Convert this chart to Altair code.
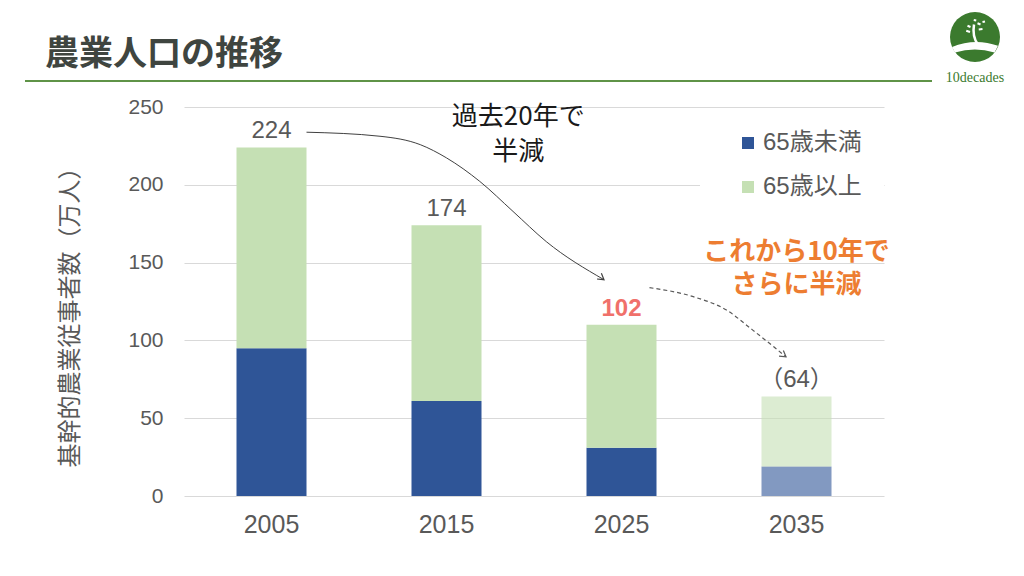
import altair as alt
import pandas as pd

# ---- data ----
years = ["2005", "2015", "2025", "2035"]
under65 = [95, 61, 31, 19]          # 65歳未満
over65 = [129, 113, 79, 45]         # 65歳以上
total_labels = ["224", "174", "102", "（64）"]
highlight = [False, False, True, False]
projected = [False, False, False, True]
series = ["65歳未満", "65歳以上"]

title_text = "農業人口の推移"
y_title = "基幹的農業従事者数（万人）"
y_ticks = [0, 50, 100, 150, 200, 250]

# annotation curves, in data units (x = category index, y = 万人)
past_arrow_x = [0.20, 0.62, 0.85, 1.00, 1.19, 1.38, 1.57, 1.90]
past_arrow_y = [233.8, 231.2, 225.8, 217.3, 202.2, 182.9, 163.5, 139.0]
future_arrow_x = [2.16, 2.41, 2.60, 2.75, 2.87, 2.94]
future_arrow_y = [133.9, 128.1, 119.5, 106.6, 95.9, 89.4]

past_note = ["過去20年で", "半減"]
past_note_x = [1.41, 1.41]
past_note_y = [243.8, 221.3]
future_note = ["これから10年で", "さらに半減"]
future_note_x = [3.0, 3.0]
future_note_y = [157.0, 135.6]

# ---- styles ----
BLUE = "#2f5597"
GREEN = "#c5e0b4"
GRAY = "#595959"
ORANGE = "#ed7d31"
RED = "#f0706a"
LOGO = "#3b7a2e"
CJK = "Noto Sans CJK JP"
LAT = "Liberation Sans, Noto Sans CJK JP"

W, H = 700, 389

rows = []
for i, yr in enumerate(years):
    op = 0.6 if projected[i] else 1.0
    rows.append({"year": yr, "series": series[0], "value": under65[i], "order": 0, "op": op})
    rows.append({"year": yr, "series": series[1], "value": over65[i], "order": 1, "op": op})
bars_df = pd.DataFrame(rows)

lab_df = pd.DataFrame({
    "year": years,
    "value": [a + b for a, b in zip(under65, over65)],
    "label": total_labels,
    "hl": highlight,
})

past_df = pd.DataFrame({"x": past_arrow_x, "value": past_arrow_y})
future_df = pd.DataFrame({"x": future_arrow_x, "value": future_arrow_y})
past_head = past_df.tail(1)
future_head = future_df.tail(1)
past_note_df = pd.DataFrame({"x": past_note_x, "value": past_note_y, "t": past_note})
future_note_df = pd.DataFrame({"x": future_note_x, "value": future_note_y, "t": future_note})

yscale = alt.Scale(domain=[0, 250], nice=False, zero=True)
yaxis = alt.Axis(
    values=y_ticks, title=y_title, grid=True, gridColor="#d9d9d9", domain=False, ticks=False,
    labelFontSize=21, labelColor=GRAY, labelFont=LAT, labelPadding=21,
    titleFont=CJK, titleFontSize=24, titleColor=GRAY, titleFontWeight="normal",
    titleAngle=-90, titleX=-114, titleY=204, titleAlign="center", titleBaseline="middle",
)


def Y(field):
    return alt.Y(field, scale=yscale, axis=yaxis)


xband = alt.X(
    "year:N", sort=years,
    scale=alt.Scale(domain=years, paddingInner=0.6, paddingOuter=0.3),
    axis=alt.Axis(title=None, labelAngle=0, domain=False, ticks=False, labelFontSize=25,
                  labelColor=GRAY, labelFont=LAT, labelPadding=16),
)
xq = alt.X("x:Q", scale=alt.Scale(domain=[-0.5, 3.5], nice=False, zero=False), axis=None)

one = pd.DataFrame({"k": [0]})

# white patch where the legend sits over the 200 gridline
legend_bg = alt.Chart(one).mark_rect(color="white").encode(
    x=alt.value(516), x2=alt.value(700), y=alt.value(62), y2=alt.value(96)
)

bars = alt.Chart(bars_df).mark_bar().encode(
    x=xband,
    y=alt.Y("value:Q", stack="zero", scale=yscale, axis=yaxis),
    color=alt.Color(
        "series:N", scale=alt.Scale(domain=series, range=[BLUE, GREEN]),
        legend=alt.Legend(
            title=None, orient="none", legendX=552, legendY=24, symbolType="square",
            symbolSize=144, symbolStrokeWidth=0, labelFontSize=24, labelColor=GRAY,
            labelFont=LAT, rowPadding=20, labelOffset=3, padding=0,
        ),
    ),
    order=alt.Order("order:Q"),
    opacity=alt.Opacity("op:Q", scale=None, legend=None),
)

labels_plain = alt.Chart(lab_df).transform_filter("!datum.hl").mark_text(
    fontSize=24, font=LAT, color=GRAY, baseline="middle", dy=-16
).encode(x=xband, y=Y("value:Q"), text="label:N")

labels_hl = alt.Chart(lab_df).transform_filter("datum.hl").mark_text(
    fontSize=24, font=LAT, color=RED, fontWeight="bold", baseline="middle", dy=-16
).encode(x=xband, y=Y("value:Q"), text="label:N")

bar_group = alt.layer(bars, labels_plain, labels_hl)

past_line = alt.Chart(past_df).mark_line(
    color="#404040", strokeWidth=1, interpolate="monotone"
).encode(x=xq, y=Y("value:Q"))
past_tip = alt.Chart(past_head).mark_point(
    shape="M -1 -0.6 L 0 0 L -1 0.6", size=144, angle=37, filled=False,
    color="#404040", strokeWidth=1.2, opacity=1
).encode(x=xq, y=Y("value:Q"))

future_line = alt.Chart(future_df).mark_line(
    color=GRAY, strokeWidth=1.2, strokeDash=[4, 3], interpolate="monotone"
).encode(x=xq, y=Y("value:Q"))
future_tip = alt.Chart(future_head).mark_point(
    shape="M -1 -0.6 L 0 0 L -1 0.6", size=144, angle=37, filled=False,
    color=GRAY, strokeWidth=1.2, opacity=1
).encode(x=xq, y=Y("value:Q"))

past_txt = alt.Chart(past_note_df).mark_text(
    fontSize=26, font=CJK, color="#1a1a1a", baseline="middle", align="center"
).encode(x=xq, y=Y("value:Q"), text="t:N")

future_txt = alt.Chart(future_note_df).mark_text(
    fontSize=26, font=CJK, color=ORANGE, fontWeight="bold", baseline="middle", align="center"
).encode(x=xq, y=Y("value:Q"), text="t:N")

overlay_group = alt.layer(past_line, past_tip, future_line, future_tip, past_txt, future_txt)

# header decorations
title_mark = alt.Chart(pd.DataFrame({"t": [title_text]})).mark_text(
    fontSize=34, font=CJK, fontWeight="bold", color="#3f4540", align="left", baseline="middle"
).encode(x=alt.value(-139), y=alt.value(-52), text="t:N")

header_rule = alt.Chart(one).mark_rule(color="#5f9347", strokeWidth=2).encode(
    x=alt.value(-159), x2=alt.value(748), y=alt.value(-26)
)

logo_circle = alt.Chart(one).mark_point(
    shape="circle", size=2500, filled=True, color=LOGO, opacity=1
).encode(x=alt.value(791), y=alt.value(-70))
logo_ground = alt.Chart(one).mark_point(
    shape="M -0.92 0.4 Q 0 0.02 0.92 0.35 L 0.78 0.62 Q 0 0.38 -0.8 0.62 Z",
    size=2500, filled=True, color="white", opacity=1
).encode(x=alt.value(791), y=alt.value(-70))
logo_trunk = alt.Chart(one).mark_point(
    shape="M 0.12 0.3 Q -0.12 0 -0.04 -0.5", size=2500, filled=False,
    color="white", strokeWidth=2.5, opacity=1
).encode(x=alt.value(791), y=alt.value(-70))
logo_leaves = alt.Chart(one).mark_point(
    shape="M -0.3 -0.45 L -0.18 -0.4 M 0.1 -0.55 L 0.22 -0.5 M -0.35 -0.25 L -0.2 -0.2 "
          "M 0.15 -0.3 L 0.3 -0.32 M -0.05 -0.68 L 0.05 -0.66 M 0.3 -0.6 L 0.4 -0.62",
    size=2500, filled=False, color="white", strokeWidth=2, opacity=1
).encode(x=alt.value(791), y=alt.value(-70))
logo_text = alt.Chart(pd.DataFrame({"t": ["10decades"]})).mark_text(
    fontSize=14, font="Liberation Serif", color=LOGO, align="center", baseline="middle"
).encode(x=alt.value(791), y=alt.value(-29), text="t:N")

deco_group = alt.layer(title_mark, header_rule, logo_circle, logo_ground, logo_trunk,
                       logo_leaves, logo_text)

chart = alt.layer(
    legend_bg, bar_group, overlay_group, deco_group,
).resolve_scale(x="independent").properties(
    width=W, height=H,
    autosize=alt.AutoSizeParams(type="none"),
    padding={"left": 176, "top": 99, "right": 132, "bottom": 72},
    background="white",
).configure_view(stroke=None)

chart.save("out.html", embed_options={"renderer": "svg", "actions": False})
